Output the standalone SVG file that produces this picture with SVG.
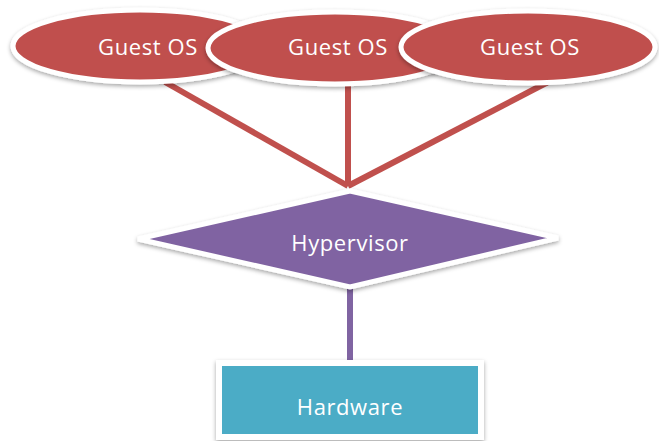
<svg xmlns="http://www.w3.org/2000/svg" width="659" height="441" viewBox="0 0 659 441">
<defs>
<filter id="sh" x="-10%" y="-10%" width="120%" height="130%">
<feDropShadow dx="0" dy="2" stdDeviation="2" flood-color="#000" flood-opacity="0.35"/>
</filter>
</defs>
<style>
.guest{fill:#c0504d;stroke:#fff;stroke-width:5;filter:url(#sh)}
.lbl{font-family:"Open Sans","Liberation Sans",sans-serif;font-size:22px;letter-spacing:0.6px;fill:#fff;text-anchor:middle;dominant-baseline:central}
.red{stroke:#c0504d;stroke-width:6;fill:none}
.pur{stroke:#8064a2;stroke-width:6;fill:none}
</style>
<rect width="659" height="441" fill="#fff"/>
<g id="connectors">
<line class="red" x1="165" y1="82" x2="348" y2="186"/>
<line class="red" x1="348" y1="82" x2="348" y2="186"/>
<line class="red" x1="548" y1="82" x2="348" y2="186"/>
<line class="pur" x1="350" y1="285" x2="350" y2="362"/>
</g>
<g id="guest1">
<ellipse class="guest" cx="140" cy="46" rx="127" ry="36"/>
<text class="lbl" x="148" y="46">Guest OS</text>
</g>
<g id="guest2">
<ellipse class="guest" cx="335" cy="48" rx="127" ry="36"/>
<text class="lbl" x="338" y="46">Guest OS</text>
</g>
<g id="guest3">
<ellipse class="guest" cx="528" cy="47" rx="127" ry="36"/>
<text class="lbl" x="530" y="46">Guest OS</text>
</g>
<g id="hypervisor">
<polygon points="350,191 558,238 350,287 138,239" fill="#8064a2" stroke="#fff" stroke-width="5" stroke-linejoin="miter" filter="url(#sh)"/>
<text class="lbl" x="350" y="242">Hypervisor</text>
</g>
<g id="hardware">
<rect x="219" y="363" width="262" height="74" fill="#4bacc6" stroke="#fff" stroke-width="6" filter="url(#sh)"/>
<text class="lbl" x="350" y="406">Hardware</text>
</g>
</svg>
